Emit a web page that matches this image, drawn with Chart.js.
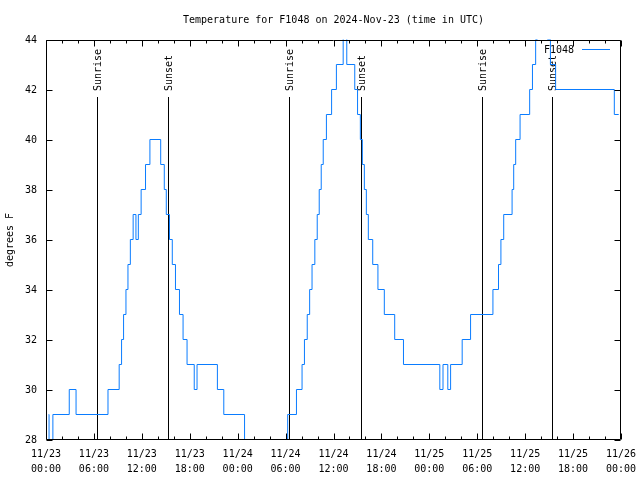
<!DOCTYPE html>
<html>
<head>
<meta charset="utf-8">
<title>Temperature for F1048</title>
<script src="https://cdn.jsdelivr.net/npm/chart.js@4.4.1/dist/chart.umd.min.js"></script>
<style>
  html, body { margin: 0; padding: 0; background: #fff; }
  #chart { display: block; }
</style>
</head>
<body>
<canvas id="chart" width="640" height="480"></canvas>
<script>
// hours after 11/23 00:00 UTC, and the temperature (F) reported from that time on
const hours = [
  0.28, 0.32, 0.8, 2.85, 3.7, 7.7, 9.1, 9.4, 9.65, 9.95, 10.2, 10.5, 10.85, 11.2, 11.5,
  11.85, 12.4, 12.95, 14.3, 14.75, 15.0, 15.4, 15.75, 16.15, 16.65, 17.1, 17.6, 18.5,
  18.85, 21.4, 22.2, 24.8,
  30.2, 31.3, 32.0, 32.3, 32.65, 32.95, 33.25, 33.6, 33.9, 34.15, 34.4, 34.65, 35.05,
  35.7, 36.3, 37.15, 37.6, 38.6, 38.95, 39.3, 39.55, 39.8, 40.05, 40.3, 40.85, 41.5,
  42.3, 43.6, 44.7, 49.25, 49.65, 50.25, 50.6, 52.05, 53.1,
  55.9, 56.6, 56.9, 57.25, 58.3, 58.5, 58.75, 59.3, 60.5, 60.85, 61.25, 61.45, 62.75,
  63.1, 63.75, 71.1, 71.65
];
const temps = [
  29, 28, 29, 30, 29, 30, 31, 32, 33, 34, 35, 36, 37, 36, 37,
  38, 39, 40, 39, 38, 37, 36, 35, 34, 33, 32, 31, 30,
  31, 30, 29, 28,
  29, 30, 31, 32, 33, 34, 35, 36, 37, 38, 39, 40, 41,
  42, 43, 45, 43, 42, 41, 40, 39, 38, 37, 36, 35, 34,
  33, 32, 31, 30, 31, 30, 31, 32, 33,
  34, 35, 36, 37, 38, 39, 40, 41, 42, 43, 44, 45, 44,
  43, 42, 41, 41
];

const sunrise = [6.42, 30.47, 54.56];
const sunset = [15.31, 39.41, 63.4];

const tickDays = ['11/23', '11/23', '11/23', '11/23', '11/24', '11/24', '11/24',
  '11/24', '11/25', '11/25', '11/25', '11/25', '11/26'];
const tickTimes = ['00:00', '06:00', '12:00', '18:00', '00:00', '06:00', '12:00',
  '18:00', '00:00', '06:00', '12:00', '18:00', '00:00'];

const titleText = 'Temperature for F1048 on 2024-Nov-23 (time in UTC)';
const seriesName = 'F1048';
const lineColor = '#0a7cff';
const FONT_FAMILY = '"DejaVu Sans Mono", "Liberation Mono", monospace';
const FONT = '10px ' + FONT_FAMILY;

// gnuplot look: frame with inward ticks, sun markers, title and key
const gnuplotBits = {
  id: 'gnuplotBits',
  beforeDatasetsDraw(chart) {
    const ctx = chart.ctx;
    const xs = chart.scales.x, ys = chart.scales.y;
    const yTop = Math.round(ys.getPixelForValue(41.7));
    const yBot = chart.chartArea.bottom;
    ctx.save();
    ctx.strokeStyle = '#000';
    ctx.fillStyle = '#000';
    ctx.lineWidth = 1;
    ctx.font = FONT;
    const mark = (h, label) => {
      const x = Math.round(xs.getPixelForValue(h)) + 0.5;
      ctx.beginPath();
      ctx.moveTo(x, yTop);
      ctx.lineTo(x, yBot);
      ctx.stroke();
      ctx.save();
      ctx.translate(x + 1, yTop - 6);
      ctx.rotate(-Math.PI / 2);
      ctx.textAlign = 'left';
      ctx.textBaseline = 'middle';
      ctx.fillText(label, 0, 0);
      ctx.restore();
    };
    sunrise.forEach(h => mark(h, 'Sunrise'));
    sunset.forEach(h => mark(h, 'Sunset'));
    ctx.restore();
    // half-pixel shift so the flat parts of the trace land on whole pixels
    ctx.save();
    ctx.translate(0.5, -0.5);
  },
  afterDatasetsDraw(chart) {
    const ctx = chart.ctx;
    ctx.restore();
    const {left, right, top, bottom} = chart.chartArea;
    const xs = chart.scales.x, ys = chart.scales.y;
    const L = Math.round(left) + 0.5, R = Math.round(right) - 0.5;
    const T = Math.round(top) + 0.5, B = Math.round(bottom) - 0.5;
    ctx.save();
    ctx.strokeStyle = '#000';
    ctx.lineWidth = 1;
    ctx.beginPath();
    ctx.rect(L, T, R - L, B - T);
    // x ticks: major every 6 h, minor every 2 h, on bottom and top
    for (let h = xs.min; h <= xs.max; h += 2) {
      const x = Math.round(xs.getPixelForValue(h)) + 0.5;
      const len = (h % 6 === 0) ? 6 : 3;
      ctx.moveTo(x, B); ctx.lineTo(x, B - len);
      ctx.moveTo(x, T); ctx.lineTo(x, T + len);
    }
    ys.ticks.forEach(t => {
      const y = Math.round(ys.getPixelForValue(t.value)) + 0.5;
      ctx.moveTo(L, y); ctx.lineTo(L + 6, y);
      ctx.moveTo(R, y); ctx.lineTo(R - 6, y);
    });
    ctx.stroke();

    // title over the plot
    ctx.fillStyle = '#000';
    ctx.font = FONT;
    ctx.textAlign = 'center';
    ctx.textBaseline = 'middle';
    ctx.fillText(titleText, (left + right) / 2, 20);

    // key, top right
    ctx.textAlign = 'right';
    ctx.fillText(chart.data.datasets[0].label, 574, 50);
    ctx.strokeStyle = lineColor;
    ctx.beginPath();
    ctx.moveTo(582, 49.5);
    ctx.lineTo(610, 49.5);
    ctx.stroke();
    ctx.restore();
  }
};

const ctx = document.getElementById('chart').getContext('2d');
new Chart(ctx, {
  type: 'line',
  data: {
    datasets: [{
      label: seriesName,
      data: hours.map((h, i) => ({x: h, y: temps[i]})),
      borderColor: lineColor,
      borderWidth: 1,
      pointRadius: 0,
      stepped: true,
      fill: false
    }]
  },
  options: {
    responsive: false,
    animation: false,
    devicePixelRatio: 1,
    layout: { padding: { left: 0, right: 19, top: 40, bottom: 0 } },
    scales: {
      x: {
        type: 'linear',
        min: 0,
        max: 72,
        afterFit: s => { s.height = 40; s.paddingLeft = 0; s.paddingRight = 0; },
        grid: { display: false, drawTicks: false },
        border: { display: false },
        ticks: {
          stepSize: 6,
          autoSkip: false,
          maxRotation: 0,
          padding: 7,
          color: '#000',
          font: { family: FONT_FAMILY, size: 10, lineHeight: 1.5 },
          callback: v => {
            const i = Math.round(v / 6);
            return [tickDays[i], tickTimes[i]];
          }
        }
      },
      y: {
        min: 28,
        max: 44,
        afterFit: s => { s.width = 46; },
        grid: { display: false, drawTicks: false },
        border: { display: false },
        title: {
          display: true,
          text: 'degrees F',
          color: '#000',
          font: { family: FONT_FAMILY, size: 10 }
        },
        ticks: {
          stepSize: 2,
          padding: 9,
          color: '#000',
          font: { family: FONT_FAMILY, size: 10 }
        }
      }
    },
    plugins: {
      legend: { display: false },
      tooltip: { enabled: false }
    }
  },
  plugins: [gnuplotBits]
});
</script>
</body>
</html>
